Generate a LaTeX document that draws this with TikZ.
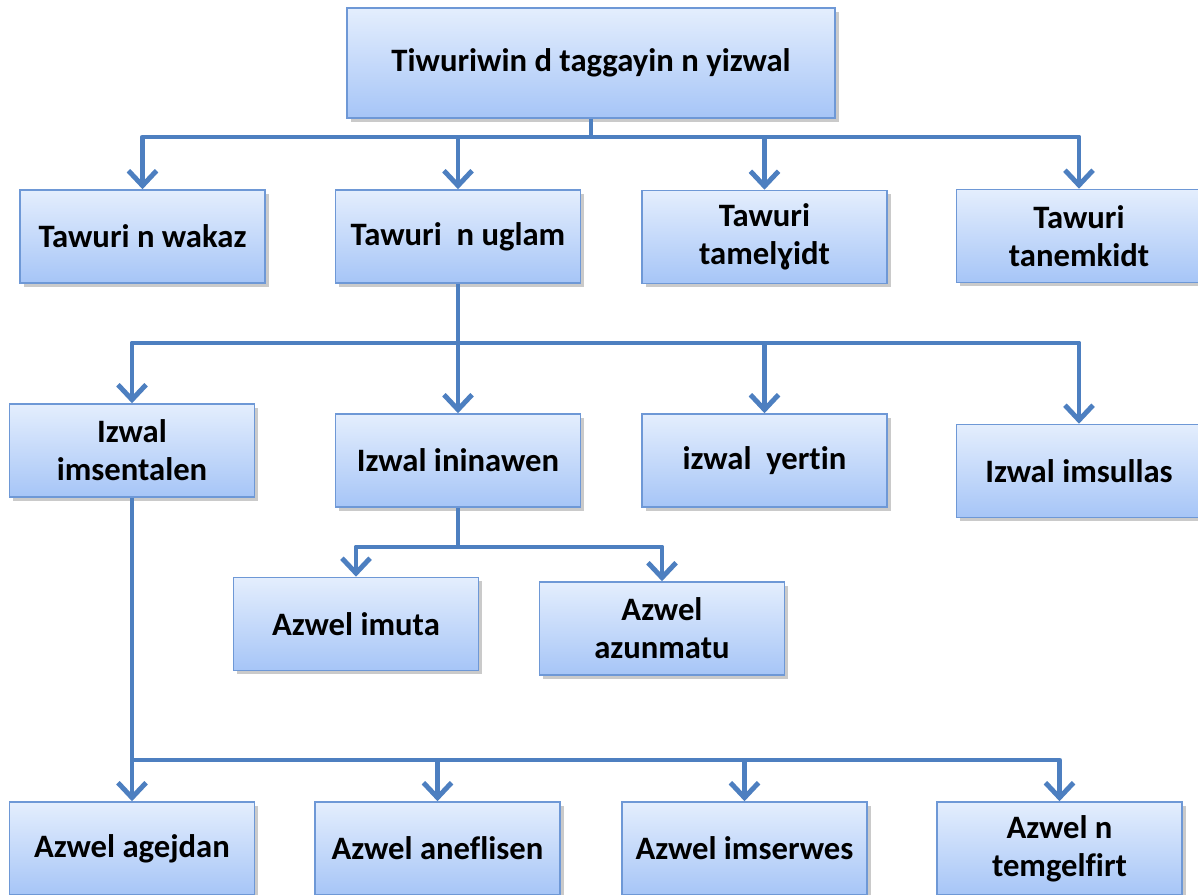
\documentclass[tikz,border=0pt]{standalone}
\usepackage{fontspec}
\setmainfont{Carlito}[Ligatures=NoCommon]
\usetikzlibrary{arrows.meta,shadows,calc}
\definecolor{linecol}{HTML}{4D7FC0}
\definecolor{boxtop}{HTML}{E4EEFD}
\definecolor{boxbot}{HTML}{A6C5F7}
\definecolor{boxline}{HTML}{6E98D6}
\tikzset{
  box/.style={draw=boxline, line width=0.9pt, top color=boxtop, bottom color=boxbot,
    drop shadow={shadow xshift=2.2pt, shadow yshift=-2.2pt, opacity=0.35, fill=black!60},
    align=center, inner sep=0pt, minimum width=4.9cm, minimum height=1.86cm,
    font=\bfseries\fontsize{18.6}{21.5}\selectfont},
  conn/.style={draw=linecol, line width=2.8pt, line join=round},
  arr/.style={conn, -{Straight Barb[length=8.5pt,width=16pt,line width=2.8pt]}},
}
\begin{document}
\begin{tikzpicture}[x=0.02cm,y=-0.02cm]
\useasboundingbox (0,0) rectangle (1198,895);
% nodes
\node[box, minimum width=9.76cm, minimum height=2.2cm] (top) at (591,63) {Tiwuriwin d taggayin n yizwal};
\node[box] (wakaz) at (142.5,236.5) {Tawuri n wakaz};
\node[box] (uglam) at (458,236.5) {Tawuri\ \ n uglam};
\node[box] (tamel) at (764.5,237) {Tawuri\\tamelɣidt};
\node[box] (tanem) at (1079,236) {Tawuri\\tanemkidt};
\node[box] (imsent) at (132,450.5) {Izwal\\imsentalen};
\node[box] (inin) at (458,460.5) {Izwal ininawen};
\node[box] (yert) at (764.5,460.5) {izwal\ \ yertin};
\node[box] (imsul) at (1079,471) {Izwal imsullas};
\node[box] (imuta) at (356,624) {Azwel imuta};
\node[box] (azun) at (662,628.5) {Azwel\\azunmatu};
\node[box] (agej) at (132,848.5) {Azwel agejdan};
\node[box] (anef) at (437.5,848.5) {Azwel aneflisen};
\node[box] (imser) at (744.5,848.5) {Azwel imserwes};
\node[box] (temg) at (1059.5,848.5) {Azwel n\\temgelfirt};
% junctions
\coordinate (j1) at (591,137);
\coordinate (j2) at (458,343);
\coordinate (j3) at (458,547);
\coordinate (j4) at (132,760);
% level 1
\draw[conn] (top.south) -- (j1);
\foreach \n in {wakaz,uglam,tamel,tanem} \draw[arr] (j1) -| (\n.north);
% level 2
\draw[conn] (uglam.south) -- (j2);
\foreach \n in {imsent,inin,yert,imsul} \draw[arr] (j2) -| (\n.north);
% level 3
\draw[conn] (inin.south) -- (j3);
\foreach \n in {imuta,azun} \draw[arr] (j3) -| (\n.north);
% level 4
\draw[conn] (imsent.south) -- (j4);
\foreach \n in {agej,anef,imser,temg} \draw[arr] (j4) -| (\n.north);
\end{tikzpicture}
\end{document}
